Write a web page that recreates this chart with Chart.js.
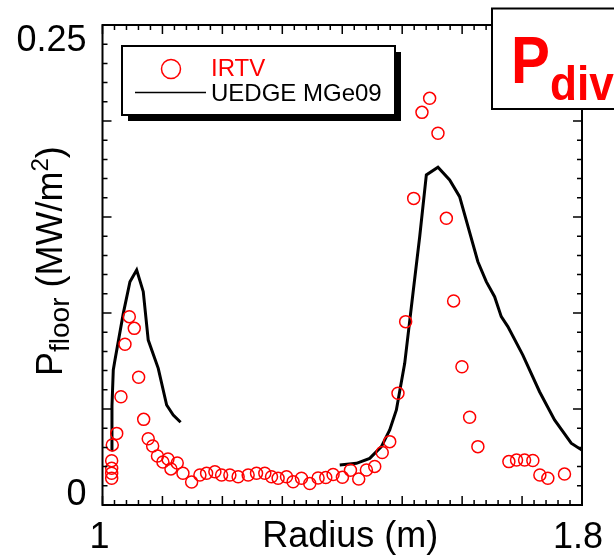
<!DOCTYPE html>
<html lang="en">

<head>
    <meta charset="UTF-8">
    <title>Pdiv floor heat flux</title>
    <script src="https://cdn.jsdelivr.net/npm/chart.js"></script>
    <style>
        body {
            margin: 0;
            background-color: white;
        }

        canvas {
            display: block;
        }
    </style>
</head>

<body>
    <canvas id="chart" width="614" height="556"></canvas>

    <script>
        // IRTV measurement: radius (m) and floor heat flux (MW/m2)
        const irtvRadius = [
            1.0153, 1.0153, 1.0153, 1.0153, 1.0163, 1.0237, 1.0308, 1.0375, 1.0447, 1.0530,
            1.0603, 1.0687, 1.0763, 1.0837, 1.0917, 1.1008, 1.1092, 1.1142, 1.1247, 1.1342,
            1.1487, 1.1625, 1.1737, 1.1875, 1.1987, 1.2125, 1.2263, 1.2430, 1.2570, 1.2708,
            1.2820, 1.2930, 1.3070, 1.3180, 1.3320, 1.3458, 1.3597, 1.3725, 1.3847, 1.4003,
            1.4137, 1.4275, 1.4403, 1.4542, 1.4667, 1.4792, 1.4930, 1.5058, 1.5192, 1.5330,
            1.5458, 1.5597, 1.5737, 1.5858, 1.5997, 1.6125, 1.6263, 1.6780, 1.6908, 1.7042,
            1.7180, 1.7297, 1.7430, 1.7708
        ];
        const irtvFlux = [
            0.0139, 0.0165, 0.0191, 0.0231, 0.0313, 0.0373, 0.0564, 0.0837, 0.0981, 0.0920,
            0.0665, 0.0446, 0.0345, 0.0307, 0.0255, 0.0224, 0.0240, 0.0188, 0.0219, 0.0165,
            0.0120, 0.0156, 0.0165, 0.0173, 0.0156, 0.0156, 0.0147, 0.0156, 0.0165, 0.0165,
            0.0147, 0.0139, 0.0147, 0.0121, 0.0139, 0.0112, 0.0141, 0.0143, 0.0159, 0.0144,
            0.0181, 0.0135, 0.0182, 0.0201, 0.0273, 0.0330, 0.0582, 0.0955, 0.1597, 0.2045,
            0.2118, 0.1936, 0.1493, 0.1063, 0.0720, 0.0457, 0.0304, 0.0226, 0.0234, 0.0234,
            0.0232, 0.0156, 0.0139, 0.0161
        ];

        // UEDGE MGe09 model, inner and outer divertor legs
        const uedgeInnerRadius = [
            1.0147, 1.0158, 1.0180, 1.0208, 1.0347, 1.0458, 1.0570, 1.0680, 1.0763, 1.0930,
            1.1070, 1.1180, 1.1303
        ];
        const uedgeInnerFlux = [
            0.0286, 0.0516, 0.0703, 0.0755, 0.0998, 0.1163, 0.1224, 0.1111, 0.0859, 0.0712,
            0.0521, 0.0469, 0.0431
        ];
        const uedgeOuterRadius = [
            1.3958, 1.4237, 1.4458, 1.4653, 1.4792, 1.4903, 1.5042, 1.5180, 1.5292, 1.5403,
            1.5597, 1.5792, 1.5958, 1.6263, 1.6403, 1.6542, 1.6653, 1.6763, 1.7013, 1.7292,
            1.7542, 1.7820, 1.7997
        ];
        const uedgeOuterFlux = [
            0.0208, 0.0217, 0.0243, 0.0304, 0.0391, 0.0495, 0.0738, 0.1103, 0.1397, 0.1719,
            0.1759, 0.1693, 0.1606, 0.1267, 0.1163, 0.1085, 0.0981, 0.0929, 0.0781, 0.0590,
            0.0443, 0.0322, 0.0286
        ];

        const xTickValues = [1, 1.8];
        const xTickLabels = ["1", "1.8"];
        const yTickValues = [0, 0.25];
        const yTickLabels = ["0", "0.25"];

        const FONT = "'Liberation Sans', Arial, sans-serif";

        function toPoints(xs, ys) {
            return xs.map((x, i) => ({ x: x, y: ys[i] }));
        }

        // frame with inward ticks on all four sides, tick labels and axis titles
        const framePlugin = {
            id: "frame",
            afterDraw(chart) {
                const ctx = chart.ctx;
                const a = chart.chartArea;
                const xs = chart.scales.x;
                const ys = chart.scales.y;
                ctx.save();
                ctx.strokeStyle = "black";
                ctx.lineWidth = 2;
                ctx.strokeRect(a.left, a.top, a.right - a.left, a.bottom - a.top);

                ctx.lineWidth = 1.5;
                ctx.beginPath();
                for (let i = 0; i <= 40; i++) {
                    const px = xs.getPixelForValue(1 + i * 0.02);
                    const len = i % 5 === 0 ? 9 : 5;
                    ctx.moveTo(px, a.bottom);
                    ctx.lineTo(px, a.bottom - len);
                    ctx.moveTo(px, a.top);
                    ctx.lineTo(px, a.top + len);
                }
                for (let i = 0; i <= 25; i++) {
                    const py = ys.getPixelForValue(i * 0.01);
                    const len = i % 5 === 0 ? 9 : 5;
                    ctx.moveTo(a.left, py);
                    ctx.lineTo(a.left + len, py);
                    ctx.moveTo(a.right, py);
                    ctx.lineTo(a.right - len, py);
                }
                ctx.stroke();

                ctx.fillStyle = "black";
                ctx.font = "36px " + FONT;
                ctx.textBaseline = "alphabetic";

                // y tick labels sit inside the axis span
                ctx.textAlign = "right";
                ctx.fillText(yTickLabels[0], a.left - 16, ys.getPixelForValue(yTickValues[0]));
                ctx.fillText(yTickLabels[1], a.left - 16, ys.getPixelForValue(yTickValues[1]) + 26);

                ctx.textAlign = "center";
                ctx.fillText(xTickLabels[0], xs.getPixelForValue(xTickValues[0]) - 3, a.bottom + 43);
                ctx.fillText(xTickLabels[1], xs.getPixelForValue(xTickValues[1]) - 4, a.bottom + 43);

                ctx.fillText("Radius (m)", (a.left + a.right) / 2 + 8, a.bottom + 42);

                // rotated y title: P_floor (MW/m^2)
                ctx.translate(62, 376);
                ctx.rotate(-Math.PI / 2);
                ctx.textAlign = "left";
                let x = 0;
                ctx.font = "36px " + FONT;
                ctx.fillText("P", x, 0);
                x += ctx.measureText("P").width;
                ctx.font = "28px " + FONT;
                ctx.fillText("floor", x, 7);
                x += ctx.measureText("floor").width;
                ctx.font = "36px " + FONT;
                ctx.fillText(" (MW/m", x, 0);
                x += ctx.measureText(" (MW/m").width;
                ctx.font = "24px " + FONT;
                ctx.fillText("2", x, -14);
                x += ctx.measureText("2").width;
                ctx.font = "36px " + FONT;
                ctx.fillText(")", x, 0);
                ctx.restore();
            }
        };

        // boxed legend with drop shadow, plus the P_div tag in the corner
        const legendPlugin = {
            id: "boxes",
            afterDraw(chart) {
                const ctx = chart.ctx;
                ctx.save();

                const lx = 122, ly = 46, lw = 273, lh = 69;
                ctx.fillStyle = "black";
                ctx.fillRect(lx + 6, ly + 6, lw, lh);
                ctx.fillStyle = "white";
                ctx.fillRect(lx, ly, lw, lh);
                ctx.strokeStyle = "black";
                ctx.lineWidth = 2;
                ctx.strokeRect(lx, ly, lw, lh);

                ctx.strokeStyle = "red";
                ctx.lineWidth = 1.5;
                ctx.beginPath();
                ctx.arc(171, 69, 9.5, 0, Math.PI * 2);
                ctx.stroke();

                ctx.strokeStyle = "black";
                ctx.lineWidth = 1.5;
                ctx.beginPath();
                ctx.moveTo(135, 92.5);
                ctx.lineTo(206, 92.5);
                ctx.stroke();

                ctx.font = "24px " + FONT;
                ctx.textAlign = "left";
                ctx.textBaseline = "alphabetic";
                ctx.fillStyle = "red";
                ctx.fillText("IRTV", 211, 76);
                ctx.fillStyle = "black";
                ctx.fillText("UEDGE MGe09", 211, 101);

                // P_div tag, clipped by the right edge of the canvas
                ctx.fillStyle = "white";
                ctx.fillRect(492, 8, 130, 101);
                ctx.strokeStyle = "black";
                ctx.lineWidth = 2;
                ctx.strokeRect(492, 8.5, 130, 100.5);

                ctx.fillStyle = "red";
                ctx.save();
                ctx.translate(511, 83);
                ctx.scale(0.87, 1);
                ctx.font = "bold 67px " + FONT;
                ctx.fillText("P", 0, 0);
                ctx.restore();
                ctx.save();
                ctx.translate(550, 100);
                ctx.scale(0.92, 1);
                ctx.font = "bold 48px " + FONT;
                ctx.fillText("div", 0, 0);
                ctx.restore();
                ctx.restore();
            }
        };

        const ctx = document.getElementById("chart").getContext("2d");
        const chart = new Chart(ctx, {
            type: "scatter",
            data: {
                datasets: [
                    {
                        label: "IRTV",
                        data: toPoints(irtvRadius, irtvFlux),
                        showLine: false,
                        pointStyle: "circle",
                        pointRadius: 6,
                        pointBorderWidth: 1.5,
                        pointBorderColor: "red",
                        pointBackgroundColor: "rgba(0,0,0,0)",
                    },
                    {
                        label: "UEDGE MGe09",
                        data: toPoints(uedgeInnerRadius, uedgeInnerFlux),
                        showLine: true,
                        borderColor: "black",
                        borderWidth: 3,
                        pointRadius: 0,
                        tension: 0,
                    },
                    {
                        label: "UEDGE MGe09 outer",
                        data: toPoints(uedgeOuterRadius, uedgeOuterFlux),
                        showLine: true,
                        borderColor: "black",
                        borderWidth: 3,
                        pointRadius: 0,
                        tension: 0,
                    },
                ],
            },
            options: {
                responsive: false,
                animation: false,
                layout: {
                    padding: { left: 102.5, right: 32, top: 25, bottom: 51 },
                },
                plugins: {
                    legend: { display: false },
                    tooltip: { enabled: false },
                },
                scales: {
                    x: { type: "linear", min: 1, max: 1.8, display: false },
                    y: { type: "linear", min: 0, max: 0.25, display: false },
                },
            },
            plugins: [framePlugin, legendPlugin],
        });
    </script>
</body>

</html>
